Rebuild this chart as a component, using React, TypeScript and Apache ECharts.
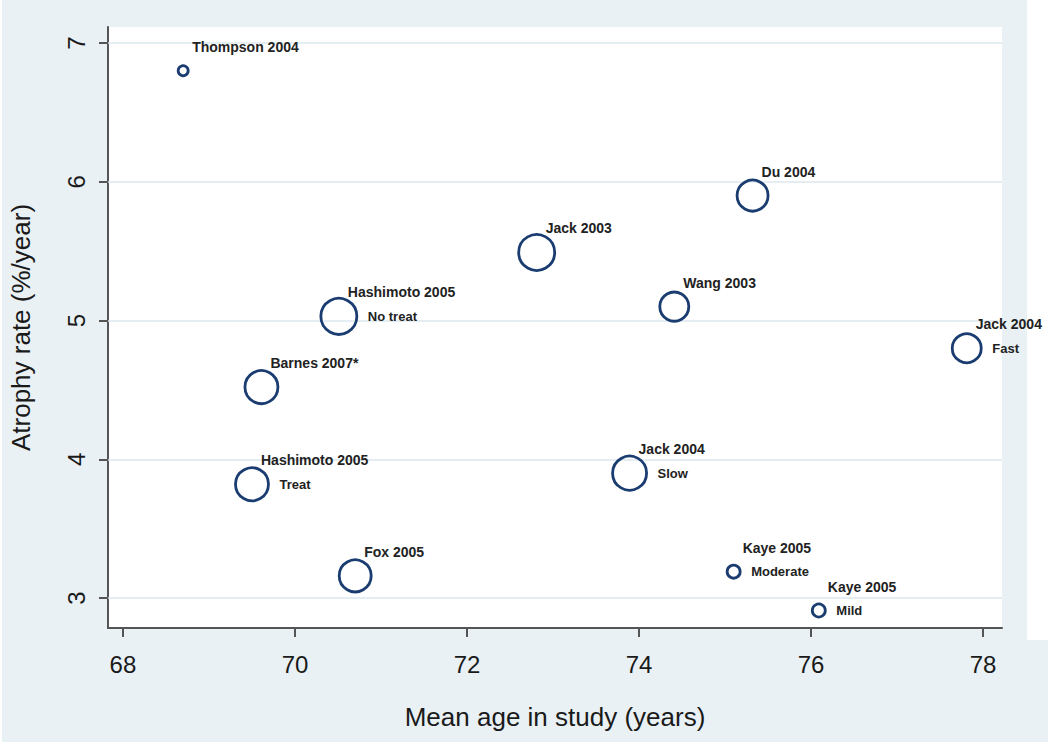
import React, { useEffect, useRef } from "react";
import * as echarts from "echarts";

const studies = [
  "Thompson 2004", "Du 2004", "Jack 2003", "Hashimoto 2005", "Wang 2003", "Jack 2004",
  "Barnes 2007*", "Hashimoto 2005", "Jack 2004", "Fox 2005", "Kaye 2005", "Kaye 2005",
];
const subgroups = ["", "", "", "No treat", "", "Fast", "", "Treat", "Slow", "", "Moderate", "Mild"];
const meanAge = [68.7, 75.32, 72.81, 70.51, 74.41, 77.81, 69.61, 69.5, 73.89, 70.7, 75.1, 76.09];
const atrophyRate = [6.8, 5.9, 5.49, 5.03, 5.1, 4.8, 4.52, 3.82, 3.9, 3.16, 3.19, 2.91];
const weights = [10, 31, 36, 36, 29, 29, 33, 33, 34, 32, 13, 13];
const xTicks = [68, 70, 72, 74, 76, 78];
const yTicks = [3, 4, 5, 6, 7];

const FONT = "'Liberation Sans', Arial, sans-serif";
const NAVY = "#1a3c70";

export default function App() {
  const ref = useRef<HTMLDivElement>(null);
  useEffect(() => {
    if (!ref.current) return;
    const chart = echarts.init(ref.current, null, { renderer: "svg" });
    const pts = meanAge.map((x, i) => ({
      value: [x, atrophyRate[i], weights[i]],
      name: studies[i],
      sub: subgroups[i],
    }));
    chart.setOption({
      animation: false,
      backgroundColor: "#ffffff",
      textStyle: { fontFamily: FONT },
      graphic: [
        { type: "rect", z: -10, silent: true, shape: { x: 2, y: 0, width: 1025, height: 742 }, style: { fill: "#e9f1f4" } },
        { type: "rect", z: -10, silent: true, shape: { x: 1027, y: 640, width: 21, height: 102 }, style: { fill: "#e9f1f4" } },
      ],
      grid: {
        left: 105, top: 27, right: 48, bottom: 116,
        show: true, backgroundColor: "#ffffff", borderWidth: 0,
      },
      xAxis: {
        type: "value", min: 67.826, max: 78.22,
        name: "Mean age in study (years)", nameLocation: "middle", nameGap: 76,
        nameTextStyle: { fontSize: 26, color: "#1a1a1a", fontFamily: FONT },
        axisLine: { show: true, lineStyle: { color: "#555555", width: 2 } },
        axisTick: { show: true, length: 9, lineStyle: { color: "#555555", width: 2 }, customValues: xTicks },
        axisLabel: { fontSize: 24, color: "#1a1a1a", margin: 24, customValues: xTicks, fontFamily: FONT },
        splitLine: { show: false },
      },
      yAxis: {
        type: "value", min: 2.784, max: 7.115,
        name: "Atrophy rate (%/year)", nameLocation: "middle", nameGap: 74,
        nameTextStyle: { fontSize: 26, color: "#1a1a1a", fontFamily: FONT },
        axisLine: { show: true, lineStyle: { color: "#555555", width: 2 } },
        axisTick: { show: true, length: 9, lineStyle: { color: "#555555", width: 2 }, customValues: yTicks },
        axisLabel: { fontSize: 24, color: "#1a1a1a", margin: 20, rotate: 90, customValues: yTicks, fontFamily: FONT },
        splitLine: { show: false },
      },
      series: [
        {
          type: "scatter",
          z: 3,
          data: pts,
          symbol: "circle",
          symbolSize: (v: number[]) => v[2],
          itemStyle: { color: "transparent", borderColor: NAVY, borderWidth: 2.8, opacity: 1 },
          label: {
            show: true,
            position: "inside",
            offset: [9, -24],
            align: "left",
            verticalAlign: "middle",
            formatter: (p: any) => p.name,
            fontSize: 14,
            fontWeight: "bold",
            color: "#222222",
            fontFamily: FONT,
          },
          emphasis: { disabled: true },
        },
        {
          type: "scatter",
          z: 3,
          silent: true,
          data: pts.filter((p) => p.sub !== "").map((p) => ({
            value: p.value,
            name: p.sub,
            label: { offset: [p.value[2] / 2 + 11, 0] },
          })),
          symbolSize: 1,
          itemStyle: { color: "transparent", opacity: 1 },
          label: {
            show: true,
            position: "inside",
            align: "left",
            verticalAlign: "middle",
            formatter: (p: any) => p.name,
            fontSize: 13,
            fontWeight: "bold",
            color: "#222222",
            fontFamily: FONT,
          },
          markLine: {
            silent: true,
            z: 1,
            symbol: ["none", "none"],
            label: { show: false },
            lineStyle: { color: "#dbe8ee", width: 1.5, type: "solid" },
            data: yTicks.map((t) => ({ yAxis: t })),
          },
          emphasis: { disabled: true },
        },
      ],
    });
    return () => chart.dispose();
  }, []);
  return (
    <div
      ref={ref}
      style={{ position: "fixed", left: 0, top: 0, width: 1050, height: 744 }}
    />
  );
}
